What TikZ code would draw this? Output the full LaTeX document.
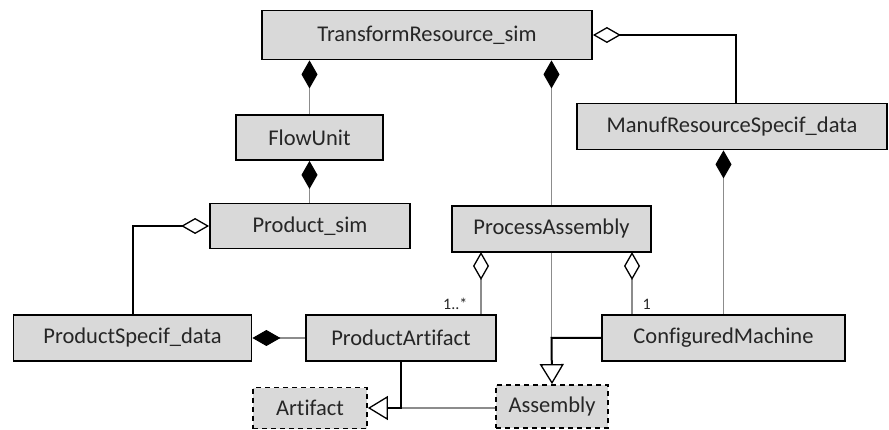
\documentclass[tikz,border=0pt]{standalone}
\usepackage{fontspec}
\setmainfont{Carlito}[Ligatures=NoCommon]
\usetikzlibrary{arrows.meta}
\definecolor{boxfill}{HTML}{D9D9D9}
\definecolor{textgray}{HTML}{262626}
\definecolor{linkgray}{HTML}{8C8C8C}
\begin{document}
\begin{tikzpicture}[x=1pt,y=-1pt,
  cls/.style={draw=black, line width=1.8pt, fill=boxfill, text=textgray,
    font=\fontsize{22.5}{25}\selectfont, inner sep=0pt, anchor=center},
  abstractcls/.style={cls, dash pattern=on 5pt off 4pt},
  thinlink/.style={draw=linkgray, line width=1.2pt},
  thicklink/.style={draw=black, line width=2pt},
  comp/.style={{Diamond[length=28pt,width=16pt,color=black,fill=black,line width=1pt]}-},
  aggr/.style={{Diamond[length=28pt,width=16pt,color=black,fill=white,line width=1.3pt]}-},
  gen/.style={-{Triangle[length=20pt,width=24pt,color=black,fill=white,line width=1.3pt]}},
  mult/.style={text=textgray, font=\fontsize{16}{18}\selectfont, inner sep=0pt}]
\useasboundingbox (0,0) rectangle (889,430);

% classes
\node[cls, minimum width=330pt, minimum height=49pt] (trs)   at (427,35)  {TransformResource\_sim};
\node[cls, minimum width=147pt, minimum height=45pt] (fu)    at (309.5,137.5) {FlowUnit};
\node[cls, minimum width=200pt, minimum height=45pt] (psim)  at (310,226) {Product\_sim};
\node[cls, minimum width=310pt, minimum height=46pt] (mrsd)  at (732,126.5) {ManufResourceSpecif\_data};
\node[cls, minimum width=199pt, minimum height=46pt] (proc)  at (551.5,229)  {ProcessAssembly};
\node[cls, minimum width=238pt, minimum height=46pt] (psd)   at (132.5,338) {ProductSpecif\_data};
\node[cls, minimum width=190pt, minimum height=46pt] (part)  at (401,338)   {ProductArtifact};
\node[cls, minimum width=243pt, minimum height=46pt] (cm)    at (723.5,338) {ConfiguredMachine};
\node[abstractcls, minimum width=114pt, minimum height=41pt] (art) at (310,408)   {Artifact};
\node[abstractcls, minimum width=112pt, minimum height=43pt] (asm) at (552,406.5) {Assembly};

% junction points
\coordinate (mrsdin) at ([xshift=4pt]mrsd.north);
\coordinate (cmjoin) at (proc.south |- cm.west);
\coordinate (artjoin) at (part.south |- art.east);
\coordinate (aggl) at (481,252);
\coordinate (aggr) at (632,252);

% composition links
\draw[thinlink, comp] (fu.north |- trs.south) -- (fu.north);
\draw[thinlink, comp] (proc.north |- trs.south) -- (proc.north);
\draw[thinlink, comp] (fu.south) -- (psim.north -| fu.south);
\draw[thinlink, comp] (cm.north |- mrsd.south) -- (cm.north);
\draw[thinlink, comp] (psd.east) -- (part.west);

% aggregation links
\draw[thicklink, aggr] (trs.east) -| (mrsdin);
\draw[thicklink, aggr] (psim.west) -| (psd.north);
\draw[thinlink, aggr] (aggl) -- (aggl |- part.north)
  node[mult, pos=1, anchor=south east, xshift=-13pt, yshift=4pt] {1..*};
\draw[thinlink, aggr] (aggr) -- (aggr |- cm.north)
  node[mult, pos=1, anchor=south west, xshift=10pt, yshift=4pt] {1};

% generalisation links
\draw[thinlink] (proc.south) -- (cmjoin);
\draw[thicklink, gen] (cm.west) -- (cmjoin) -- (asm.north);
\draw[thinlink] (asm.west |- artjoin) -- (artjoin);
\draw[thicklink, gen] (part.south) -- (artjoin) -- (art.east);
\end{tikzpicture}
\end{document}
